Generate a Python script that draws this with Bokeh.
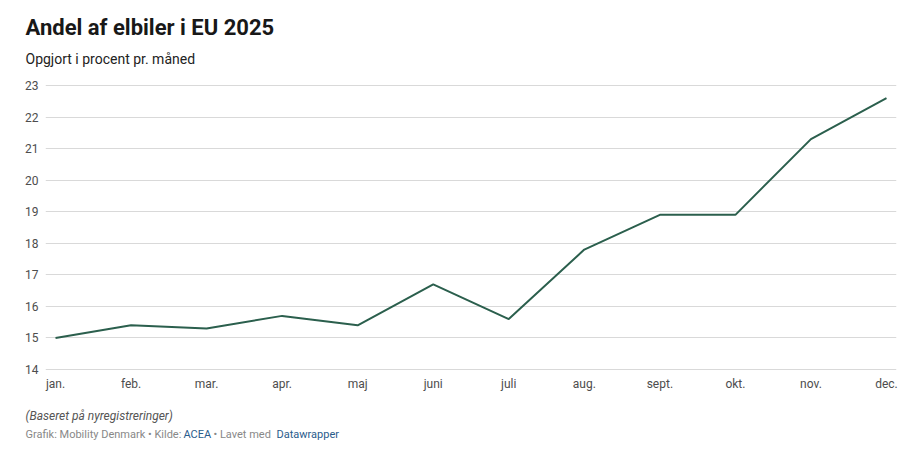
from bokeh.plotting import figure
from bokeh.models import Range1d, FixedTicker, Label
from bokeh.layouts import column
from bokeh.embed import file_html
from bokeh.resources import INLINE

months = ["jan.", "feb.", "mar.", "apr.", "maj", "juni", "juli", "aug.", "sept.", "okt.", "nov.", "dec."]
share = [15.0, 15.4, 15.3, 15.7, 15.4, 16.7, 15.6, 17.8, 18.9, 18.9, 21.3, 22.6]
y_ticks = [14, 15, 16, 17, 18, 19, 20, 21, 22, 23]

FONT = "Roboto"
W = 916
xs = list(range(len(months)))

HAS_FA = "frame_align" in figure.properties()
XOFF = 0 if HAS_FA else 45


def text_panel(h):
    f = figure(width=W, height=h, output_backend="svg", toolbar_location=None,
               x_range=Range1d(0, 1), y_range=Range1d(0, 1),
               min_border_left=0, min_border_right=0, min_border_top=0, min_border_bottom=0)
    f.axis.visible = False
    f.grid.visible = False
    f.outline_line_color = None
    f.border_fill_color = "white"
    if HAS_FA:
        f.frame_align = False
    return f


def lab(f, text, px, y, size, color="#222222", style="normal"):
    f.add_layout(Label(x=px - XOFF, y=y + 0.36 * size, x_units="screen", y_units="screen", text=text,
                       text_font=FONT, text_font_size=f"{size}px", text_color=color,
                       text_font_style=style, text_baseline="alphabetic", text_align="left"))


# header (page y 0-70)
head = text_panel(70)
lab(head, "Andel af elbiler i EU 2025", 25, 70 - 35, 22, "#181818", "bold")
lab(head, "Opgjort i procent pr. måned", 25, 70 - 64, 14, "#222222")

# main chart (page y 70-400)
p = figure(width=W, height=330, output_backend="svg", toolbar_location=None,
           x_range=Range1d(-0.1325, 11.1325), y_range=Range1d(13.97, 23.03),
           min_border_left=45, min_border_right=20, min_border_top=14, min_border_bottom=30)
p.outline_line_color = None
p.background_fill_color = "white"
p.border_fill_color = "white"
if HAS_FA:
    p.frame_align = False

p.line(xs, share, line_color="#2b5f4d", line_width=2)

p.xgrid.visible = False
p.ygrid.ticker = FixedTicker(ticks=y_ticks)
p.ygrid.grid_line_color = "#d9d9d9"
p.ygrid.grid_line_width = 1

for ax in (p.xaxis[0], p.yaxis[0]):
    ax.axis_line_color = None
    ax.major_tick_line_color = None
    ax.minor_tick_line_color = None
    ax.major_tick_out = 0
    ax.major_tick_in = 0
    ax.major_label_text_font = FONT
    ax.major_label_text_font_size = "12px"
    ax.major_label_text_color = "#4d4d4d"

p.yaxis[0].ticker = FixedTicker(ticks=y_ticks)
p.yaxis[0].major_label_standoff = 7
p.xaxis[0].ticker = FixedTicker(ticks=xs)
p.xaxis[0].major_label_overrides = {i: m for i, m in enumerate(months)}
p.xaxis[0].major_label_standoff = 6

# footer (page y 400-446)
foot = text_panel(46)
lab(foot, "(Baseret på nyregistreringer)", 25, 446 - 420, 12, "#555555", "italic")
gray = "#888888"
blue = "#2a5c8c"
lab(foot, "Grafik: Mobility Denmark • Kilde:", 25, 446 - 438, 11, gray)
lab(foot, "ACEA", 183, 446 - 438, 11, blue)
lab(foot, "• Lavet med", 213, 446 - 438, 11, gray)
lab(foot, "Datawrapper", 276, 446 - 438, 11, blue)

layout = column(head, p, foot, spacing=0)
open("out.html", "w").write(file_html(layout, INLINE))
